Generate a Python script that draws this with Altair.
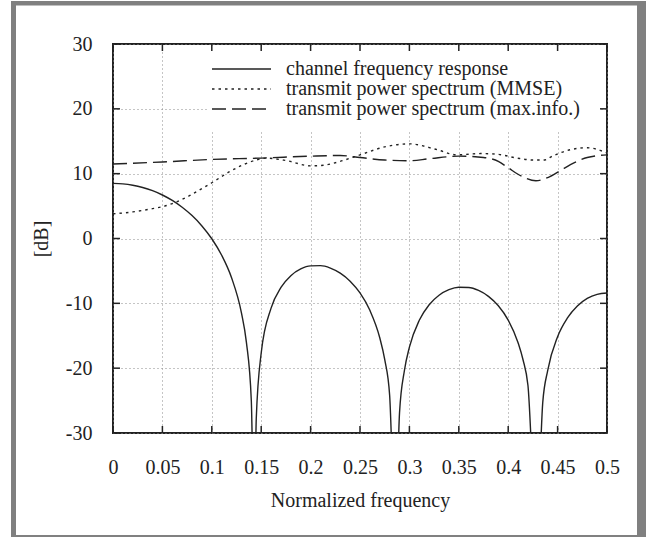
import altair as alt
import pandas as pd

# ---------------- data ----------------
channel_freq = [0, 0.01, 0.02, 0.03, 0.04, 0.05, 0.06, 0.07, 0.08, 0.09, 0.10, 0.11, 0.12, 0.13,
                0.135, 0.14, 0.1429, 0.145, 0.15, 0.16, 0.17, 0.18, 0.19, 0.20, 0.21, 0.22, 0.23,
                0.24, 0.25, 0.26, 0.27, 0.275, 0.28, 0.2857, 0.29, 0.295, 0.30, 0.31, 0.32, 0.33,
                0.34, 0.35, 0.36, 0.37, 0.38, 0.39, 0.40, 0.41, 0.415, 0.42, 0.4286, 0.435, 0.44,
                0.45, 0.46, 0.47, 0.48, 0.49, 0.50]
channel_db = [8.5, 8.43, 8.22, 7.87, 7.37, 6.71, 5.87, 4.82, 3.53, 1.94, -0.04, -2.59, -6.06, -11.47,
              -15.98, -25.03, -45.0, -27.8, -17.66, -10.74, -7.54, -5.73, -4.70, -4.22, -4.19, -4.56, -5.34,
              -6.58, -8.40, -11.08, -15.31, -18.66, -24.18, -45.0, -26.9, -20.32, -16.76, -12.62, -10.22, -8.75,
              -7.89, -7.51, -7.55, -8.01, -8.92, -10.37, -12.58, -16.07, -18.70, -22.67, -45.0, -25.24, -20.33,
              -15.15, -12.25, -10.41, -9.25, -8.61, -8.40]

mmse_freq = [0, 0.02, 0.04, 0.05, 0.065, 0.075, 0.09, 0.10, 0.118, 0.132, 0.145, 0.155, 0.176, 0.20,
             0.213, 0.23, 0.25, 0.277, 0.30, 0.328, 0.348, 0.372, 0.389, 0.409, 0.426, 0.436, 0.446,
             0.463, 0.48, 0.50]
mmse_db = [3.8, 4.1, 4.6, 4.9, 5.7, 6.4, 7.7, 8.6, 10.3, 11.4, 12.1, 12.4, 12.0, 11.2,
           11.3, 11.9, 12.9, 14.2, 14.6, 13.7, 12.9, 13.1, 13.0, 12.4, 12.1, 12.1, 12.8,
           13.7, 14.0, 13.2]

maxinfo_freq = [0, 0.05, 0.10, 0.15, 0.20, 0.23, 0.25, 0.275, 0.30, 0.32, 0.35, 0.375, 0.39, 0.40,
                0.415, 0.428, 0.44, 0.453, 0.463, 0.48, 0.50]
maxinfo_db = [11.5, 11.8, 12.2, 12.4, 12.7, 12.8, 12.5, 12.1, 12.0, 12.3, 12.7, 12.5, 11.9, 10.9,
              9.5, 8.9, 9.4, 10.5, 11.4, 12.5, 12.9]

x_ticks = [0, 0.05, 0.1, 0.15, 0.2, 0.25, 0.3, 0.35, 0.4, 0.45, 0.5]
y_ticks = [-30, -20, -10, 0, 10, 20, 30]
legend_labels = ["channel frequency response",
                 "transmit power spectrum (MMSE)",
                 "transmit power spectrum (max.info.)"]

# ---------------- styling ----------------
W, H = 494, 389
FONT = "Liberation Serif"
INK = "#222222"
GRID = "#8a8a8a"
FRAME = "#808080"
DASHES = [None, [2.5, 4], [14, 6]]

xscale = alt.Scale(domain=[0, 0.5], nice=False, zero=False)
yscale = alt.Scale(domain=[-30, 30], nice=False, zero=False)

x_axis = alt.Axis(values=x_ticks, labelExpr="'' + datum.value", grid=True, gridColor=GRID,
                  gridDash=[1, 3], gridWidth=1, ticks=False, tickSize=0, domain=False,
                  labelFont=FONT, labelFontSize=20, labelColor=INK, labelBaseline="alphabetic",
                  labelPadding=40, labelFlush=False, labelOverlap=False,
                  title="Normalized frequency", titleFont=FONT, titleFontSize=20,
                  titleFontWeight="normal", titleColor=INK, titleBaseline="alphabetic",
                  titleAlign="center", titleX=W / 2, titleY=73)
y_axis = alt.Axis(values=y_ticks, labelExpr="'' + datum.value", grid=True, gridColor=GRID,
                  gridDash=[1, 3], gridWidth=1, ticks=False, tickSize=0, domain=False,
                  labelFont=FONT, labelFontSize=20, labelColor=INK, labelBaseline="middle",
                  labelPadding=21, labelFlush=False, labelOverlap=False,
                  title="[dB]", titleFont=FONT, titleFontSize=20, titleFontWeight="normal",
                  titleColor=INK, titleBaseline="alphabetic", titleAlign="center",
                  titleAngle=270, titleX=-66, titleY=H / 2)

X = alt.X("f:Q", scale=xscale, axis=x_axis)
Y = alt.Y("db:Q", scale=yscale, axis=y_axis)


def curve(freqs, vals, dash):
    df = pd.DataFrame({"f": freqs, "db": vals})
    kw = dict(color=INK, strokeWidth=1.4, clip=True, interpolate="monotone")
    if dash:
        kw["strokeDash"] = dash
    return alt.Chart(df).mark_line(**kw).encode(x=X, y=Y)


one = pd.DataFrame({"k": [0]})

channel = curve(channel_freq, channel_db, DASHES[0])
mmse = curve(mmse_freq, mmse_db, DASHES[1])
maxinfo = curve(maxinfo_freq, maxinfo_db, DASHES[2])

# legend (opaque key box like the original)
legend_box = alt.Chart(one).mark_rect(fill="white").encode(
    x=alt.value(94), x2=alt.value(487), y=alt.value(2), y2=alt.value(87))
legend_rows = [25, 45, 65]
legend_layers = []
for label, dash, yy in zip(legend_labels, DASHES, legend_rows):
    kw = dict(color=INK, strokeWidth=1.4)
    if dash:
        kw["strokeDash"] = dash
    legend_layers.append(alt.Chart(one).mark_rule(**kw).encode(
        x=alt.value(99), x2=alt.value(158), y=alt.value(yy)))
    legend_layers.append(alt.Chart(one).mark_text(
        align="left", baseline="middle", font=FONT, fontSize=20, color=INK).encode(
        x=alt.value(173), y=alt.value(yy), text=alt.value(label)))

# inward ticks on all four sides
xt = pd.DataFrame({"f": x_ticks})
yt = pd.DataFrame({"db": y_ticks})
tick_kw = dict(color=INK, strokeWidth=1.5)
ticks = [
    alt.Chart(xt).mark_rule(**tick_kw).encode(x=X, y=alt.value(H), y2=alt.value(H - 7)),
    alt.Chart(xt).mark_rule(**tick_kw).encode(x=X, y=alt.value(0), y2=alt.value(7)),
    alt.Chart(yt).mark_rule(**tick_kw).encode(y=Y, x=alt.value(0), x2=alt.value(7)),
    alt.Chart(yt).mark_rule(**tick_kw).encode(y=Y, x=alt.value(W), x2=alt.value(W - 7)),
]

# grey outer frame
frame = [
    alt.Chart(one).mark_rect(fill=FRAME).encode(
        x=alt.value(-102), x2=alt.value(-97), y=alt.value(-43), y2=alt.value(493)),
    alt.Chart(one).mark_rect(fill=FRAME).encode(
        x=alt.value(-102), x2=alt.value(533), y=alt.value(-43), y2=alt.value(-38.5)),
    alt.Chart(one).mark_rect(fill=FRAME).encode(
        x=alt.value(524), x2=alt.value(533), y=alt.value(-43), y2=alt.value(493)),
    alt.Chart(one).mark_rect(fill=FRAME).encode(
        x=alt.value(-102), x2=alt.value(533), y=alt.value(491), y2=alt.value(493)),
]

chart = alt.layer(channel, mmse, maxinfo, legend_box, *legend_layers, *ticks, *frame).properties(
    width=W, height=H,
    autosize=alt.AutoSizeParams(type="none"),
    padding={"left": 113, "top": 44, "right": 39, "bottom": 104},
    background="white",
).configure_view(stroke=INK, strokeWidth=2)

chart.save("out.html", embed_options={"renderer": "svg", "actions": False})
